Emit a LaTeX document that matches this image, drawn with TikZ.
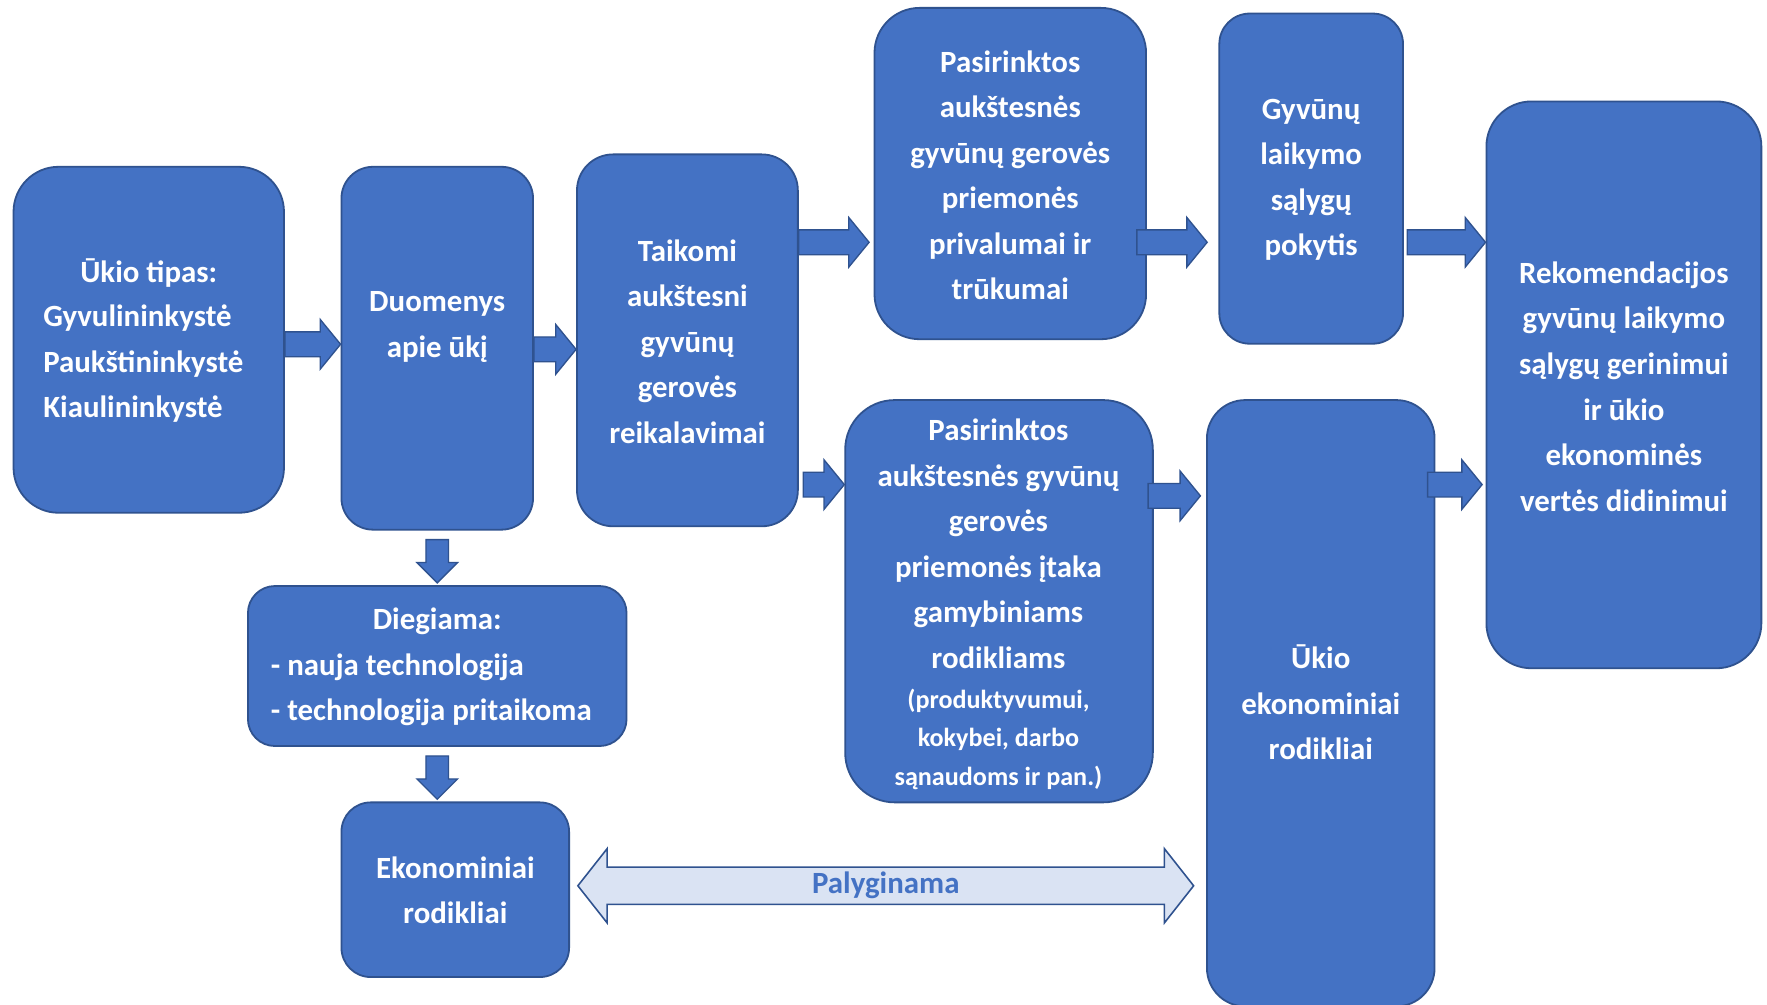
\documentclass[tikz,border=0pt]{standalone}
\usepackage{fontspec}
\setmainfont{Carlito}
\usetikzlibrary{calc}
\definecolor{boxblue}{HTML}{4472C4}
\definecolor{boxline}{HTML}{2F528F}
\definecolor{lightfill}{HTML}{DAE3F3}
\tikzset{
 box/.style={draw=boxline, line width=0.8pt, fill=boxblue, rectangle, inner sep=0pt},
 txt/.style={text=white, font=\bfseries\fontsize{13.7}{20.2}\selectfont, align=center, inner sep=0pt},
 smalltxt/.style={text=white, font=\bfseries\fontsize{11.6}{17}\selectfont, align=center, inner sep=0pt},
 blockarrow/.style={draw=boxline, fill=boxblue, line width=0.6pt, line join=miter},
 dblarrow/.style={draw=boxline, fill=lightfill, line width=0.7pt, line join=miter},
}
\newcommand\hblock[2]{%
 \draw[blockarrow] let \p1=#1, \p2=#2 in
 (\x1,{\y1+5.5pt}) -- ({\x2-9pt},{\y1+5.5pt}) -- ({\x2-9pt},{\y1+11pt}) -- (\x2,\y1)
 -- ({\x2-9pt},{\y1-11pt}) -- ({\x2-9pt},{\y1-5.5pt}) -- (\x1,{\y1-5.5pt}) -- cycle;}
\newcommand\vblock[2]{%
 \draw[blockarrow] let \p1=#1, \p2=#2 in
 ({\x1-5pt},\y1) -- ({\x1-5pt},{\y2+9pt}) -- ({\x1-9pt},{\y2+9pt}) -- (\x1,\y2)
 -- ({\x1+9pt},{\y2+9pt}) -- ({\x1+5pt},{\y2+9pt}) -- ({\x1+5pt},\y1) -- cycle;}
\begin{document}
\begin{tikzpicture}[x=0.5pt,y=-0.5pt]
\fill[white] (0,0) rectangle (1568,891);
\useasboundingbox (0,0) rectangle (1568,891);

% boxes
\node[box, minimum width=120pt, minimum height=153.5pt, rounded corners=20pt] (b1) at (132,301.5) {};
\node[box, minimum width=85pt, minimum height=161pt, rounded corners=14pt] (b2) at (388,309) {};
\node[box, minimum width=98pt, minimum height=165pt, rounded corners=16pt] (b3) at (610,302) {};
\node[box, minimum width=120.5pt, minimum height=147pt, rounded corners=20pt] (b4) at (896.5,154) {};
\node[box, minimum width=81.5pt, minimum height=146.5pt, rounded corners=13.5pt] (b5) at (1163.5,158.5) {};
\node[box, minimum width=122pt, minimum height=251.5pt, rounded corners=20pt] (b6) at (1441,341.5) {};
\node[box, minimum width=136.5pt, minimum height=178.5pt, rounded corners=22pt] (b7) at (886.5,533.5) {};
\node[box, minimum width=101pt, minimum height=269pt, rounded corners=17pt] (b8) at (1172,624) {};
\node[box, minimum width=168pt, minimum height=71pt, rounded corners=12pt] (b9) at (388,591) {};
\node[box, minimum width=101pt, minimum height=77.5pt, rounded corners=13pt] (b10) at (404,789.5) {};

% texts
\node[txt] (t1a) at (132,242) {Ūkio tipas:};
\node[txt, align=left, anchor=west] (t1b) at (38,323) {Gyvulininkystė\\Paukštininkystė\\Kiaulininkystė};
\node[txt] (t2) at (388,290) {Duomenys\\apie ūkį};
\node[txt] (t3) at (610,303) {Taikomi\\aukštesni\\gyvūnų\\gerovės\\reikalavimai};
\node[txt] (t4) at (896.5,155.5) {Pasirinktos\\aukštesnės\\gyvūnų gerovės\\priemonės\\privalumai ir\\trūkumai};
\node[txt] (t5) at (1163.5,159.5) {Gyvūnų\\laikymo\\sąlygų\\pokytis};
\node[txt] (t6) at (1441,343) {Rekomendacijos\\gyvūnų laikymo\\sąlygų gerinimui\\ir ūkio\\ekonominės\\vertės didinimui};
\node[txt] (t7a) at (886,482.5) {Pasirinktos\\aukštesnės gyvūnų\\gerovės\\priemonės įtaka\\gamybiniams\\rodikliams};
\node[smalltxt] (t7b) at (886,656) {(produktyvumui,\\kokybei, darbo\\sąnaudoms ir pan.)};
\node[txt] (t8) at (1172,623.5) {Ūkio\\ekonominiai\\rodikliai};
\node[txt] (t9a) at (388,551) {Diegiama:};
\node[txt, align=left, anchor=west] (t9b) at (240,612) {- nauja technologija\\- technologija pritaikoma};
\node[txt] (t10) at (404,790) {Ekonominiai\\rodikliai};

% block arrows
\hblock{(b1.east |- 0,305.5)}{(b2.west |- 0,305.5)}
\hblock{(b2.east |- 0,310)}{(b3.west |- 0,310)}
\hblock{(b3.east |- 0,215)}{($(b4.west |- 0,215)+(-2pt,0)$)}
\hblock{($(b3.east |- 0,430)+(2pt,0)$)}{(b7.west |- 0,430)}
\hblock{($(b4.east |- 0,215)+(-4.5pt,0)$)}{($(b5.west |- 0,215)+(-5pt,0)$)}
\hblock{($(b5.east |- 0,215)+(1.5pt,0)$)}{(b6.west |- 0,215)}
\hblock{($(b7.east |- 0,440)+(-2.5pt,0)$)}{($(b8.west |- 0,440)+(-2.5pt,0)$)}
\hblock{($(b8.east |- 0,430)+(-3.5pt,0)$)}{($(b6.west |- 0,430)+(-1.5pt,0)$)}
\vblock{($(b2.south)+(0,-4pt)$)}{($(b9.north)+(0,1pt)$)}
\vblock{($(b9.south)+(0,-4pt)$)}{($(b10.north)+(0,1pt)$)}

% double arrow
\draw[dblarrow] let \p1=($(b10.east |- 0,786)+(3.5pt,0)$), \p2=($(b8.west |- 0,786)+(-5.5pt,0)$) in
 (\x1,\y1) -- ({\x1+13pt},{\y1+16.5pt}) -- ({\x1+13pt},{\y1+8.25pt}) -- ({\x2-13pt},{\y1+8.25pt})
 -- ({\x2-13pt},{\y1+16.5pt}) -- (\x2,\y1) -- ({\x2-13pt},{\y1-16.5pt}) -- ({\x2-13pt},{\y1-8.25pt})
 -- ({\x1+13pt},{\y1-8.25pt}) -- ({\x1+13pt},{\y1-16.5pt}) -- cycle;
\node[txt, text=boxblue] (pal) at (786,786) {Palyginama};
\end{tikzpicture}
\end{document}
